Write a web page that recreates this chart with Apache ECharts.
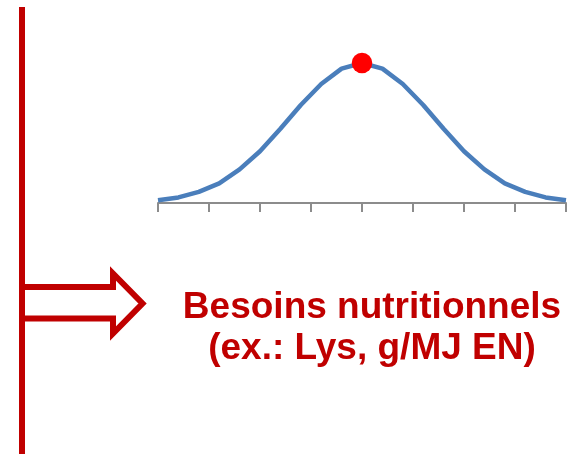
<!DOCTYPE html>
<html>
<head>
<meta charset="utf-8">
<script src="https://cdn.jsdelivr.net/npm/echarts@6/dist/echarts.min.js"></script>
<style>
html,body{margin:0;padding:0;background:#fff;}
#chart{width:577px;height:454px;}
</style>
</head>
<body>
<div id="chart"></div>
<script>
// x positions of the bell curve (one tick per unit)
const xValues = [-4, -3.6, -3.2, -2.8, -2.4, -2, -1.6, -1.2, -0.8, -0.4, 0, 0.4, 0.8, 1.2, 1.6, 2, 2.4, 2.8, 3.2, 3.6, 4];
// curve heights (peak = 1)
const yValues = [0.02, 0.04, 0.08, 0.14, 0.24, 0.37, 0.53, 0.70, 0.85, 0.96, 1.00, 0.96, 0.85, 0.70, 0.53, 0.37, 0.24, 0.14, 0.08, 0.04, 0.02];
// highlighted optimum point
const peakPoint = [0, 1.00];
// label lines
const labelLines = ["Besoins nutritionnels", "(ex.: Lys, g/MJ EN)"];

const chart = echarts.init(document.getElementById('chart'));
const curve = xValues.map((x, i) => [x, yValues[i]]);
const red = '#C00000';

chart.setOption({
  animation: false,
  backgroundColor: '#ffffff',
  grid: { left: 158, width: 408, top: 7, bottom: 251 },
  xAxis: {
    type: 'value', min: -4, max: 4, interval: 1,
    axisLine: { show: true, onZero: true, lineStyle: { color: '#8c8c8c', width: 2 } },
    axisTick: { show: true, length: 9, lineStyle: { color: '#8c8c8c', width: 2 } },
    axisLabel: { show: false },
    splitLine: { show: false }
  },
  yAxis: {
    type: 'value', min: 0, max: 1.4, show: false,
    splitLine: { show: false }
  },
  series: [
    {
      type: 'line', data: curve, showSymbol: false, symbol: 'none',
      smooth: false, clip: false,
      lineStyle: { color: '#4a7ebb', width: 4.5, join: 'round' },
      z: 2
    },
    {
      type: 'scatter', data: [peakPoint], symbol: 'circle', symbolSize: 20.5,
      itemStyle: { color: '#ff0000', opacity: 1 }, z: 3
    }
  ],
  graphic: [
    { type: 'line', shape: { x1: 22, y1: 7, x2: 22, y2: 454 },
      style: { stroke: red, lineWidth: 6 } },
    { type: 'polyline',
      shape: { points: [[22, 287], [113, 287], [113, 273.5], [142.5, 303.5], [113, 333.5], [113, 318.5], [22, 318.5]] },
      style: { stroke: red, lineWidth: 6, fill: null, lineJoin: 'miter' } },
    { type: 'text', x: 372, y: 307.5,
      style: { text: labelLines[0], fill: red, font: 'bold 37px "Liberation Sans", Arial, sans-serif', textAlign: 'center', textVerticalAlign: 'middle' } },
    { type: 'text', x: 372, y: 349,
      style: { text: labelLines[1], fill: red, font: 'bold 37px "Liberation Sans", Arial, sans-serif', textAlign: 'center', textVerticalAlign: 'middle' } }
  ]
});
</script>
</body>
</html>
